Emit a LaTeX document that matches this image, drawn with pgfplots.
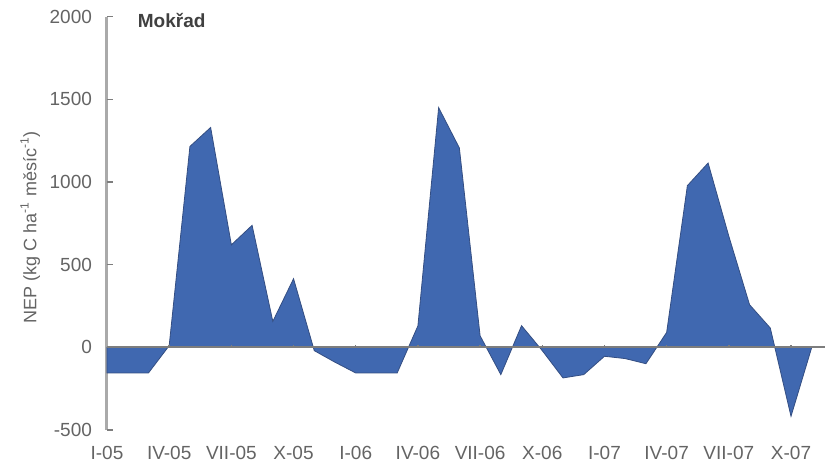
\documentclass[border=0pt]{standalone}
\usepackage{pgfplots}
\pgfplotsset{compat=1.18}
\usepackage{fontspec}
\setmainfont{Liberation Sans}
\definecolor{areablue}{RGB}{64,104,176}
\definecolor{edgeblue}{RGB}{52,78,130}
\definecolor{txtgray}{RGB}{100,100,100}
\definecolor{axgray}{RGB}{170,170,170}
\definecolor{zerogray}{RGB}{125,125,125}
\begin{document}
\begin{tikzpicture}
\useasboundingbox (0,0) rectangle (412.5pt,233.5pt);
\begin{axis}[
  at={(53.5pt,18.5pt)}, anchor=south west,
  scale only axis,
  width=359pt, height=206.65pt,
  xmin=0, xmax=34.64,
  ymin=-500, ymax=2000,
  ytick={-500,0,500,1000,1500,2000},
  axis y line=left,
  axis x line=bottom,
  x axis line style={draw=none},
  y axis line style={draw=axgray, line width=1.5pt, -},
  xtick={0,3,...,33},
  xticklabels={I-05,IV-05,VII-05,X-05,I-06,IV-06,VII-06,X-06,I-07,IV-07,VII-07,X-07},
  xtick style={draw=none},
  ytick style={draw=zerogray, line width=0.8pt},
  tick align=inside,
  major tick length=3pt,
  tick label style={font=\fontsize{9.5}{11}\selectfont, text=txtgray},
  yticklabel style={xshift=-4pt},
  xticklabel style={yshift=-4.5pt},
  /pgf/number format/assume math mode=true,
  /pgf/number format/1000 sep={},
  ylabel={NEP (kg C ha\textsuperscript{-1} měsíc\textsuperscript{-1})},
  ylabel style={at={(axis description cs:-0.107,0.49)}, anchor=center, font=\fontsize{9}{10}\selectfont, text=txtgray},
  clip=false,
]
\addplot[fill=areablue, draw=edgeblue, line width=0.4pt] coordinates {
(0,-155) (1,-155) (2,-155) (3,10) (4,1215) (5,1330) (6,620) (7,738) (8,157) (9,415)
(10,-20) (11,-90) (12,-155) (13,-155) (14,-155) (15,130) (16,1450) (17,1206) (18,70) (19,-165)
(20,131) (21,-20) (22,-185) (23,-165) (24,-54) (25,-68) (26,-99) (27,90) (28,978) (29,1115)
(30,672) (31,258) (32,117) (33,-417) (34,0)
} \closedcycle;
\draw[zerogray, line width=0.9pt] (axis cs:0,0) -- (axis cs:34.64,0);
\pgfplotsinvokeforeach{3,6,...,33}{
  \draw[zerogray, line width=0.7pt] (axis cs:#1,0) -- (axis cs:#1,16);
}
\pgfplotsinvokeforeach{-500,500,1000,1500,2000}{
  \draw[zerogray, line width=0.8pt] (axis cs:0,#1) -- (axis cs:0.15,#1);
}
\node[anchor=west, font=\bfseries\fontsize{9.5}{11}\selectfont, text=black!75] at (axis cs:1.15,1975) {Mokřad};
\end{axis}
\end{tikzpicture}
\end{document}
